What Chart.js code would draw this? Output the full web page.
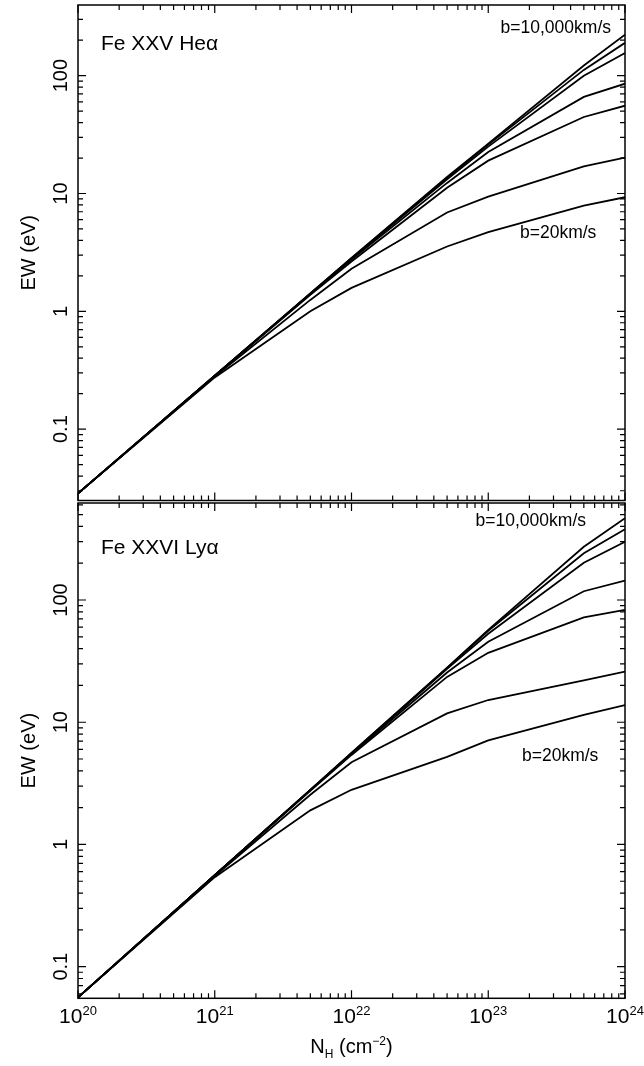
<!DOCTYPE html>
<html>
<head>
<meta charset="utf-8">
<script src="https://cdn.jsdelivr.net/npm/chart.js@4.4.0/dist/chart.umd.min.js"></script>
<style>
  html, body { margin: 0; padding: 0; background: #fff; }
  #wrap { position: relative; width: 644px; height: 1066px; }
  canvas { position: absolute; left: 0; }
</style>
</head>
<body>
<div id="wrap">
  <canvas id="heChart" width="644" height="502" style="top:0"></canvas>
  <canvas id="lyChart" width="644" height="564" style="top:502px"></canvas>
</div>
<script>
// column density N_H (cm^-2)
const nH = [1e20, 1e21, 5e21, 1e22, 5e22, 1e23, 5e23, 1e24];

// Fe XXV He-alpha EW (eV), b=10,000km/s down to b=20km/s
const he1 = [0.0285, 0.285, 1.42, 2.84, 13.8, 26.5, 122, 223];
const he2 = [0.0285, 0.285, 1.42, 2.83, 13.6, 26, 112, 190];
const he3 = [0.0285, 0.285, 1.41, 2.8, 13.2, 25, 100, 156];
const he4 = [0.0285, 0.284, 1.4, 2.75, 12.3, 22.5, 66, 85.5];
const he5 = [0.0285, 0.283, 1.38, 2.65, 11.2, 19, 44.6, 55.6];
const he6 = [0.0285, 0.28, 1.25, 2.3, 6.9, 9.4, 17, 20.2];
const he7 = [0.0285, 0.275, 1.0, 1.58, 3.55, 4.7, 7.9, 9.3];

// Fe XXVI Ly-alpha EW (eV)
const ly1 = [0.056, 0.56, 2.8, 5.6, 28, 57, 273, 467];
const ly2 = [0.056, 0.56, 2.8, 5.6, 27.8, 56, 241, 379];
const ly3 = [0.056, 0.56, 2.8, 5.55, 27.3, 53, 202, 300];
const ly4 = [0.056, 0.56, 2.78, 5.5, 25.5, 45.6, 118, 144];
const ly5 = [0.056, 0.56, 2.75, 5.4, 23.5, 37, 72, 83];
const ly6 = [0.056, 0.55, 2.55, 4.7, 11.8, 15.2, 22, 26];
const ly7 = [0.056, 0.54, 1.9, 2.8, 5.2, 7.1, 11.5, 13.8];

// tick labels
const yTickVals = [0.1, 1, 10, 100];
const yTickText = ['0.1', '1', '10', '100'];
const xTickVals = [1e20, 1e21, 1e22, 1e23, 1e24];
const xTickExp = ['20', '21', '22', '23', '24'];

const FONT = '"Liberation Sans", Arial, Helvetica, sans-serif';

function toSet(ys) {
  return {
    data: nH.map((v, i) => ({x: v, y: ys[i]})),
    borderColor: '#000',
    borderWidth: 1.8,
    pointRadius: 0,
    tension: 0,
    fill: false
  };
}

function logTicks(min, max) {
  const out = [];
  for (let e = Math.floor(Math.log10(min)); e <= Math.ceil(Math.log10(max)); e++) {
    for (let m = 1; m <= 9; m++) {
      const v = m * Math.pow(10, e);
      if (v >= min * 0.999 && v <= max * 1.001) out.push({v: v, major: m === 1});
    }
  }
  return out;
}

// frame, inward ticks on all four sides and the text
const framePlugin = {
  id: 'frame',
  afterDraw(chart, args, opts) {
    const ctx = chart.ctx;
    const a = chart.chartArea;
    const x = chart.scales.x, y = chart.scales.y;
    ctx.save();
    ctx.strokeStyle = '#000';
    ctx.lineWidth = 1.5;
    ctx.strokeRect(a.left, a.top, a.right - a.left, a.bottom - a.top);

    ctx.lineWidth = 1.2;
    ctx.beginPath();
    logTicks(x.min, x.max).forEach(t => {
      const px = x.getPixelForValue(t.v);
      const len = t.major ? 8 : 5;
      ctx.moveTo(px, a.bottom); ctx.lineTo(px, a.bottom - len);
      ctx.moveTo(px, a.top); ctx.lineTo(px, a.top + len);
    });
    logTicks(y.min, y.max).forEach(t => {
      const py = y.getPixelForValue(t.v);
      const len = t.major ? 8 : 5;
      ctx.moveTo(a.left, py); ctx.lineTo(a.left + len, py);
      ctx.moveTo(a.right, py); ctx.lineTo(a.right - len, py);
    });
    ctx.stroke();

    ctx.fillStyle = '#000';
    // y tick labels, rotated
    ctx.font = '20px ' + FONT;
    ctx.textAlign = 'center';
    ctx.textBaseline = 'alphabetic';
    yTickVals.forEach((v, i) => {
      const py = y.getPixelForValue(v);
      ctx.save();
      ctx.translate(66.5, py);
      ctx.rotate(-Math.PI / 2);
      ctx.fillText(yTickText[i], 0, 0);
      ctx.restore();
    });
    // y title
    ctx.save();
    ctx.translate(35, (a.top + a.bottom) / 2);
    ctx.rotate(-Math.PI / 2);
    ctx.font = '20px ' + FONT;
    ctx.fillText('EW (eV)', 0, 0);
    ctx.restore();

    // panel texts
    ctx.textAlign = 'left';
    ctx.font = '21px ' + FONT;
    ctx.fillText(opts.ion, 101, opts.ionY);
    ctx.font = '17.5px ' + FONT;
    ctx.textAlign = 'right';
    ctx.fillText('b=10,000km/s', opts.hiX, opts.hiY);
    ctx.textAlign = 'left';
    ctx.fillText('b=20km/s', opts.loX, opts.loY);

    if (opts.xLabels) {
      const base = a.bottom + 25;
      xTickVals.forEach((v, i) => {
        const px = x.getPixelForValue(v);
        ctx.font = '21px ' + FONT;
        const w1 = ctx.measureText('10').width;
        ctx.font = '13px ' + FONT;
        const w2 = ctx.measureText(xTickExp[i]).width;
        const x0 = px - (w1 + w2) / 2;
        ctx.textAlign = 'left';
        ctx.font = '21px ' + FONT;
        ctx.fillText('10', x0, base);
        ctx.font = '13px ' + FONT;
        ctx.fillText(xTickExp[i], x0 + w1, base - 8);
      });
      // x title  N_H (cm^-2)
      const cx = (a.left + a.right) / 2;
      const tb = a.bottom + 55;
      ctx.font = '20px ' + FONT;
      const wN = ctx.measureText('N').width;
      const wP1 = ctx.measureText(' (cm').width;
      const wP2 = ctx.measureText(')').width;
      ctx.font = '12px ' + FONT;
      const wH = ctx.measureText('H').width;
      const wE = ctx.measureText('\u22122').width;
      let xs = cx - (wN + wH + wP1 + wE + wP2) / 2;
      ctx.font = '20px ' + FONT;
      ctx.fillText('N', xs, tb); xs += wN;
      ctx.font = '12px ' + FONT;
      ctx.fillText('H', xs, tb + 5); xs += wH;
      ctx.font = '20px ' + FONT;
      ctx.fillText(' (cm', xs, tb); xs += wP1;
      ctx.font = '12px ' + FONT;
      ctx.fillText('\u22122', xs, tb - 8); xs += wE;
      ctx.font = '20px ' + FONT;
      ctx.fillText(')', xs, tb);
    }
    ctx.restore();
  }
};

function makeChart(id, sets, yMin, yMax, pad, texts) {
  return new Chart(document.getElementById(id).getContext('2d'), {
    type: 'line',
    data: { datasets: sets.map(toSet) },
    options: {
      responsive: false,
      animation: false,
      devicePixelRatio: 1,
      layout: { padding: pad },
      plugins: { legend: { display: false }, tooltip: { enabled: false }, frame: texts },
      scales: {
        x: { type: 'logarithmic', min: 1e20, max: 1e24, display: false },
        y: { type: 'logarithmic', min: yMin, max: yMax, display: false }
      }
    },
    plugins: [framePlugin]
  });
}

makeChart('heChart', [he1, he2, he3, he4, he5, he6, he7], 0.0248, 398,
  { top: 5, left: 78, right: 19, bottom: 1.5 },
  { ion: 'Fe XXV He\u03b1', ionY: 50, hiX: 611, hiY: 32.5, loX: 520, loY: 237.5, xLabels: false });

makeChart('lyChart', [ly1, ly2, ly3, ly4, ly5, ly6, ly7], 0.0551, 622,
  { top: 1, left: 78, right: 19, bottom: 67.7 },
  { ion: 'Fe XXVI Ly\u03b1', ionY: 52, hiX: 586, hiY: 23.5, loX: 522, loY: 259, xLabels: true });
</script>
</body>
</html>
